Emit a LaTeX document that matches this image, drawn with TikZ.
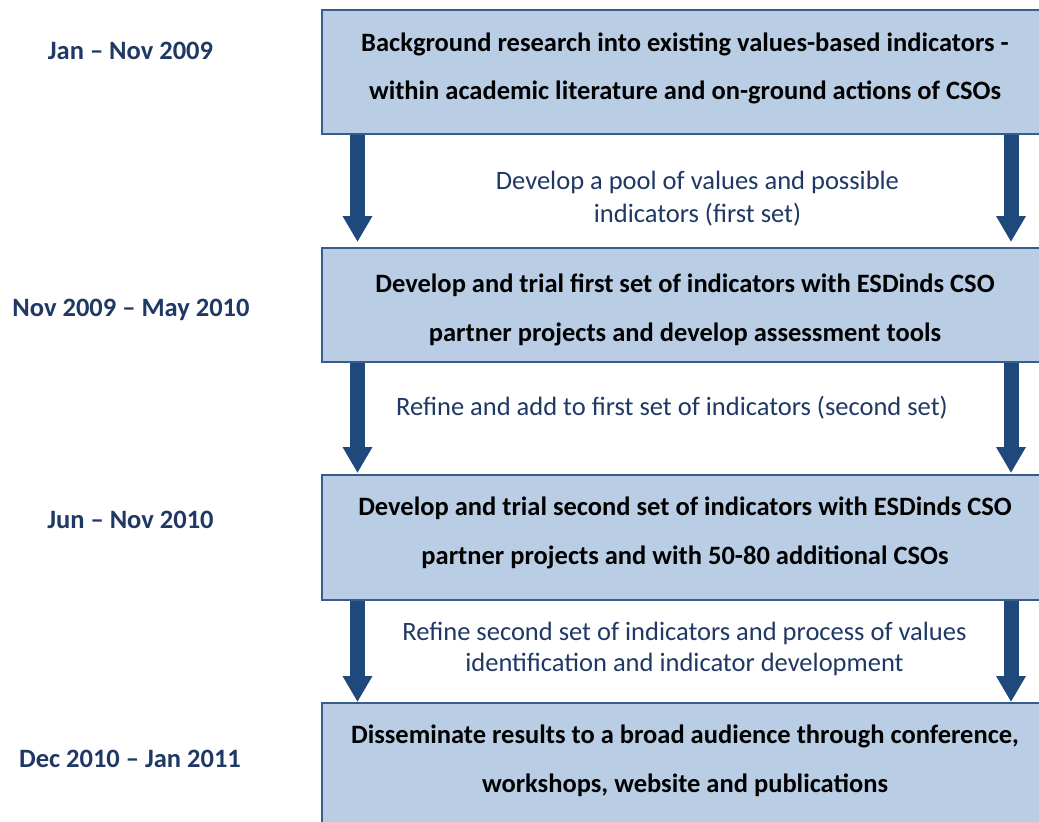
\documentclass[tikz,border=0pt]{standalone}
\usepackage{fontspec}
\setmainfont{Carlito}
\usetikzlibrary{arrows.meta}
\definecolor{boxfill}{HTML}{B9CDE5}
\definecolor{boxline}{HTML}{385D8A}
\definecolor{flowblue}{HTML}{1F497D}
\definecolor{navy}{HTML}{1F3864}
\begin{document}
\begin{tikzpicture}[x=1pt,y=-1pt,
  stage/.style={draw=boxline, line width=2pt, fill=boxfill, rectangle,
    anchor=north west, minimum width=730pt, inner sep=0pt},
  stagetext/.style={anchor=base, inner sep=0pt, text=black,
    font=\fontsize{26.5}{30}\selectfont\bfseries},
  steptext/.style={anchor=base, inner sep=0pt, text=navy,
    font=\fontsize{26.5}{30}\selectfont},
  datetext/.style={anchor=base, inner sep=0pt, text=navy,
    font=\fontsize{26.5}{30}\selectfont\bfseries},
  flow/.style={draw=flowblue, line width=15pt,
    -{Triangle[width=28pt,length=26pt]}}]
\useasboundingbox (0,0) rectangle (1039,822);
\clip (0,0) rectangle (1039,822);
\fill[white] (0,0) rectangle (1039,822);

% arrow columns
\coordinate (L) at (357.5,0);
\coordinate (R) at (1011,0);

% top-left corners of the stage boxes
\path (321,9) coordinate (p1) (321,247) coordinate (p2)
      (321,474) coordinate (p3) (321,702) coordinate (p4);

% invisible outlines used to place the arrows below the box borders
\node[stage, minimum height=124pt, draw=none, fill=none] (g1) at (p1) {};
\node[stage, minimum height=114pt, draw=none, fill=none] (g2) at (p2) {};
\node[stage, minimum height=125pt, draw=none, fill=none] (g3) at (p3) {};
\node[stage, minimum height=140pt, draw=none, fill=none] (g4) at (p4) {};

\draw[flow, shorten >=5pt] (g1.south -| L) -- (g2.north -| L);
\draw[flow, shorten >=5pt] (g1.south -| R) -- (g2.north -| R);
\draw[flow, shorten >=1pt] (g2.south -| L) -- (g3.north -| L);
\draw[flow, shorten >=1pt] (g2.south -| R) -- (g3.north -| R);
\draw[flow] (g3.south -| L) -- (g4.north -| L);
\draw[flow] (g3.south -| R) -- (g4.north -| R);

% stage boxes
\node[stage, minimum height=124pt] (b1) at (p1) {};
\node[stage, minimum height=114pt] (b2) at (p2) {};
\node[stage, minimum height=125pt] (b3) at (p3) {};
\node[stage, minimum height=140pt] (b4) at (p4) {};

% stage texts
\node[stagetext] (b1a) at (685,51) {Background research into existing values-based indicators -};
\node[stagetext] (b1b) at (685,99) {within academic literature and on-ground actions of CSOs};
\node[stagetext] (b2a) at (685,292) {Develop and trial first set of indicators with ESDinds CSO};
\node[stagetext] (b2b) at (685,341) {partner projects and develop assessment tools};
\node[stagetext] (b3a) at (685,515) {Develop and trial second set of indicators with ESDinds CSO};
\node[stagetext] (b3b) at (685,564) {partner projects and with 50-80 additional CSOs};
\node[stagetext] (b4a) at (685,743) {Disseminate results to a broad audience through conference,};
\node[stagetext] (b4b) at (685,792) {workshops, website and publications};

% texts between stages
\node[steptext] (s1a) at (697.5,189) {Develop a pool of values and possible};
\node[steptext] (s1b) at (697.5,222) {indicators (first set)};
\node[steptext] (s2a) at (672,415) {Refine and add to first set of indicators (second set)};
\node[steptext] (s3a) at (684.5,640) {Refine second set of indicators and process of values};
\node[steptext] (s3b) at (684.5,671) {identification and indicator development};

% time spans
\node[datetext] (d1) at (130.5,59) {Jan – Nov 2009};
\node[datetext] (d2) at (131,316) {Nov 2009 – May 2010};
\node[datetext] (d3) at (130.5,528) {Jun – Nov 2010};
\node[datetext] (d4) at (130,767) {Dec 2010 – Jan 2011};
\end{tikzpicture}
\end{document}
